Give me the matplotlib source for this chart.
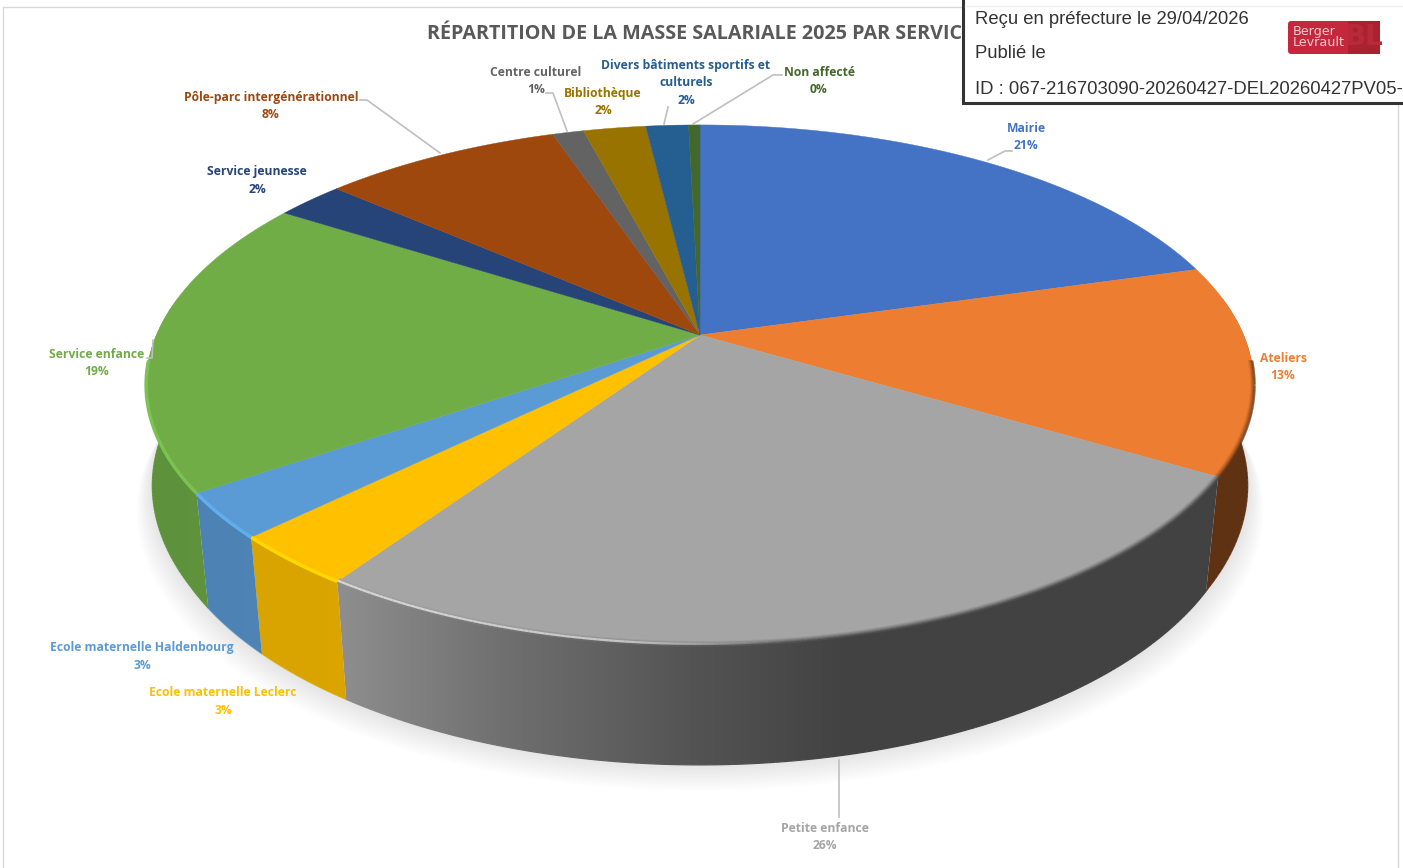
import numpy as np
import matplotlib
matplotlib.use("Agg")
import matplotlib.pyplot as plt
from matplotlib.collections import LineCollection
from matplotlib.patches import Polygon, Rectangle, FancyBboxPatch

TITLE = "RÉPARTITION DE LA MASSE SALARIALE 2025 PAR SERVICE"
SERVICES = ["Mairie", "Ateliers", "Petite enfance", "Ecole maternelle Leclerc",
            "Ecole maternelle Haldenbourg", "Service enfance", "Service jeunesse",
            "Pôle-parc intergénérationnel", "Centre culturel", "Bibliothèque",
            "Divers bâtiments sportifs et\nculturels", "Non affecté"]
SHARES = [20.6, 13.0, 26.0, 3.2, 2.8, 18.6, 2.4, 8.4, 1.1, 2.2, 1.5, 0.4]
COLORS = ["#4472C4", "#ED7D31", "#A5A5A5", "#FFC000", "#5B9BD5", "#70AD47",
          "#264478", "#9E480E", "#636363", "#997300", "#255E91", "#43682B"]

# label centre (first line) and leader line for each service, in pixels
LABEL_POS = [(1026, 128), (1283, 358), (825, 828), (223, 693), (142, 648), (97, 354),
             (257, 172), (271, 97), (536, 72), (603, 93), (686, 65), (819, 72)]
LEADERS = [[(988, 160), (1005, 151), (1012, 151)], None, [(839, 760), (839, 817)], None, None,
           [(147, 358), (152, 358), (153, 340)], None,
           [(360, 100), (367, 100), (440, 153)],
           [(546, 93), (553, 93), (567, 131)], None,
           [(668, 107), (664, 124)],
           [(782, 75), (773, 75), (693, 124)]]

CX, CY = 700, 335
A, B, K = 543.6, 250.4, 0.192


def project(theta):
    u, v = np.sin(theta), np.cos(theta)
    w = 1 + K * v
    return CX + A * u / w, CY - B * v / w


def project_bottom(theta):
    x, y = project(theta)
    v = np.cos(theta)
    s = np.interp(v, [-1, -0.5, 0, 1], [0.975, 0.977, 0.995, 0.995])
    return CX + (x - CX) * s, y + 108 - 12 * v


def wall_factor(x):
    return np.interp(x, [150, 340, 500, 600, 700, 850, 1250],
                     [0.84, 0.86, 0.68, 0.59, 0.50, 0.40, 0.40])


def to_rgb(color):
    return np.array(matplotlib.colors.to_rgb(color))


def line_segments(xs, ys):
    pts = np.column_stack([xs, ys])
    return np.stack([pts[:-1], pts[1:]], axis=1)


fig = plt.figure(figsize=(14.03, 8.68), dpi=100)
ax = fig.add_axes([0, 0, 1, 1])

# chart frame
ax.plot([3, 3, 1398, 1398], [868, 7, 7, 868], color="#d9d9d9", lw=1, zorder=1)

edges = np.cumsum([0] + SHARES) / sum(SHARES) * 2 * np.pi

# soft shadow under the front of the pie
front = np.linspace(np.pi / 2 - 0.1, 3 * np.pi / 2 + 0.1, 200)
bx, by = project_bottom(front)
for d in np.arange(26, 0, -2):
    ax.add_patch(Polygon(np.column_stack([CX + (bx - CX) * (1 + d / 900), by + d]), closed=True,
                         fc="#000000", ec="none", alpha=0.009, zorder=2))

# side walls: one horizontal gradient per slice, clipped to the wall shape
for start, end, color in zip(edges[:-1], edges[1:], COLORS):
    lo, hi = max(start, np.pi / 2 - 0.15), min(end, 3 * np.pi / 2 + 0.15)
    if hi <= lo:
        continue
    ts = np.linspace(lo, hi, 150)
    tx, ty = project(ts)
    ox, oy = project_bottom(ts)
    outline = np.vstack([np.column_stack([tx, ty]), np.column_stack([ox, oy])[::-1]])
    x_min, x_max = outline[:, 0].min(), outline[:, 0].max()
    grid = np.linspace(x_min, x_max, 300)
    strip = np.clip(to_rgb(color) * wall_factor(grid)[:, None], 0, 1)[None, :, :]
    im = ax.imshow(strip, extent=(x_min, x_max, outline[:, 1].max(), outline[:, 1].min()),
                   aspect="auto", interpolation="bilinear", zorder=3)
    clip = Polygon(outline, closed=True, transform=ax.transData)
    im.set_clip_path(clip)
    # antialiased lower edge
    mids = (ox[:-1] + ox[1:]) / 2
    ax.add_collection(LineCollection(line_segments(ox, oy), lw=0.9, zorder=3,
                                     colors=np.clip(to_rgb(color) * wall_factor(mids)[:, None], 0, 1)))

# top face
for start, end, color in zip(edges[:-1], edges[1:], COLORS):
    ts = np.linspace(start, end, max(4, int((end - start) * 120)))
    xs, ys = project(ts)
    pts = np.vstack([[CX, CY], np.column_stack([xs, ys])])
    ax.add_patch(Polygon(pts, closed=True, fc=color, ec=color, lw=0.3, zorder=4))

# bevel on the front rim
for start, end, color in zip(edges[:-1], edges[1:], COLORS):
    lo, hi = max(start, np.pi / 2 + 0.1), min(end, 3 * np.pi / 2 - 0.1)
    if hi <= lo:
        continue
    xs, ys = project(np.linspace(lo, hi, 200))
    mids = (xs[:-1] + xs[1:]) / 2
    top = to_rgb(color)
    wall = np.clip(top * wall_factor(mids)[:, None], 0, 1)
    if color in ("#A5A5A5", "#ED7D31"):
        # blend from the top colour into the wall colour over a few pixels
        for d, t in [(-3, 0.12), (-2, 0.3), (-1, 0.5), (0, 0.72), (1, 0.9)]:
            ox = CX + (xs - CX) * (1 + d / 550)
            oy = CY + (ys - CY) * (1 + d / 300)
            ax.add_collection(LineCollection(line_segments(ox, oy), lw=1.1, zorder=5,
                                             colors=top * (1 - t) + wall * t))
        if color == "#A5A5A5":
            # pale highlight that fades out towards the middle of the front
            alpha = np.interp(mids, [340, 620, 780], [1.0, 0.8, 0.0])
            rgba = np.column_stack([np.tile(to_rgb("#D8D8D8"), (len(mids), 1)), alpha])
            ax.add_collection(LineCollection(line_segments(xs, ys - 1), lw=1.6, zorder=5, colors=rgba))
    else:
        bright = {"#FFC000": "#FFD800", "#5B9BD5": "#62ADEE", "#70AD47": "#7CC250"}.get(color)
        if bright:
            ax.plot(xs, ys, color=bright, lw=2.5, zorder=5, solid_capstyle="butt")

# labels and leader lines
for name, share, color, pos, leader in zip(SERVICES, SHARES, COLORS, LABEL_POS, LEADERS):
    if leader:
        ax.plot(*zip(*leader), color="#bfbfbf", lw=1.2, zorder=6)
    lines = name.split("\n") + [f"{share:.0f}%"]
    for i, line in enumerate(lines):
        ax.text(pos[0], pos[1] + i * 17.5, line, color=color, ha="center", va="center",
                fontfamily="Open Sans", fontweight="bold", fontsize=8.75, zorder=7)

ax.text(427, 34, TITLE, color="#595959", ha="left", va="center", fontfamily="Open Sans",
        fontweight="bold", fontsize=14.2, zorder=7)

# stamp box over the top right corner
ax.add_patch(Rectangle((963, -5), 445, 108, fc="white", ec="#333333", lw=2.2, zorder=8))
ax.plot([965, 1403], [6, 6], color="#eeeeee", lw=1, zorder=9)
for y, line in [(19, "Reçu en préfecture le 29/04/2026"), (54, "Publié le"),
                (89, "ID : 067-216703090-20260427-DEL20260427PV05-")]:
    ax.text(975, y, line, color="#333333", ha="left", va="center", fontfamily="Liberation Sans",
            fontsize=13.3, zorder=9)
ax.add_patch(FancyBboxPatch((1288, 21), 92, 33, boxstyle="round,pad=0,rounding_size=3",
                            fc="#C5283D", ec="none", zorder=9))
ax.add_patch(Rectangle((1348, 21), 32, 33, fc="#A8232F", ec="none", zorder=9))
ax.text(1293, 37, "Berger\nLevrault", color="#f3c9ce", ha="left", va="center", fontsize=9.2,
        linespacing=0.8, fontfamily="DejaVu Sans", zorder=10)
ax.text(1364, 37, "BL", color="#B82A3A", ha="center", va="center", fontsize=20, fontweight="bold",
        zorder=10)

ax.set_xlim(0, 1403)
ax.set_ylim(868, 0)
ax.axis("off")

fig.savefig("out.png", dpi=100)
